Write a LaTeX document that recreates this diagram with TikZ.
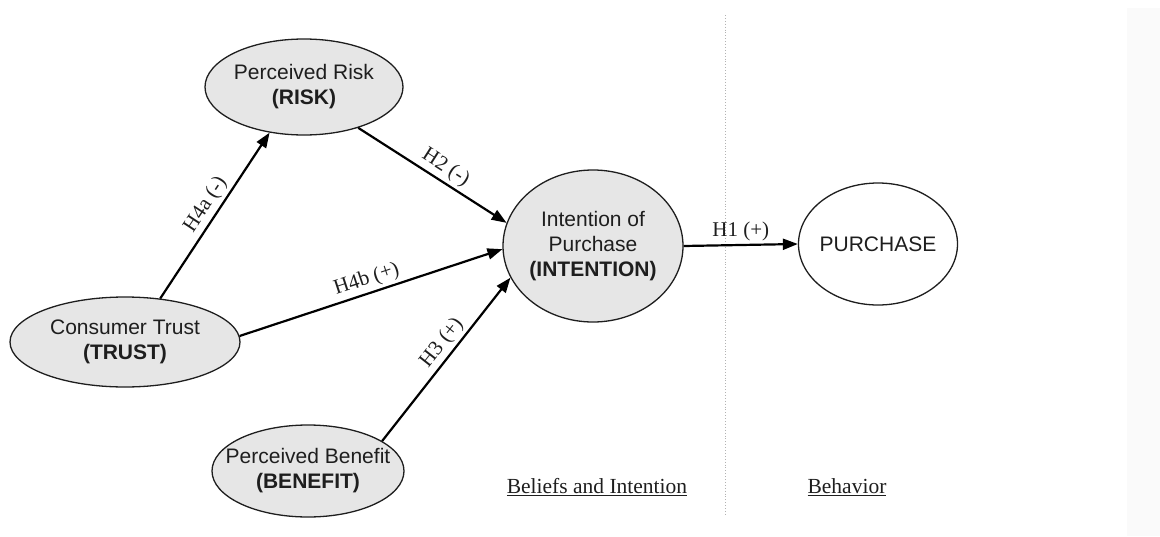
\documentclass[tikz,border=0pt]{standalone}
\usepackage{fontspec}
\setmainfont{Liberation Serif}
\setsansfont{Liberation Sans}
\usetikzlibrary{arrows.meta,shapes.geometric}

\definecolor{ovalfill}{HTML}{E6E6E6}
\definecolor{ink}{HTML}{1E1E1E}
\definecolor{sidebar}{HTML}{FAFAFA}

\tikzset{
  construct/.style={ellipse, draw=ink, line width=1.3pt, fill=ovalfill, inner sep=0pt},
  outcome/.style={construct, fill=white},
  ovaltext/.style={font=\sffamily\fontsize{21}{25}\selectfont, text=ink, align=center, inner sep=0pt},
  path/.style={line width=2.2pt, draw=black, -{Triangle[length=15pt,width=11pt]}},
  hyp/.style={font=\fontsize{21}{24}\selectfont, text=ink, inner sep=3pt},
  section/.style={font=\fontsize{21.5}{25}\selectfont, text=ink, inner sep=0pt}
}

\begin{document}
\begin{tikzpicture}[x=1pt,y=-1pt]
  \useasboundingbox (0,0) rectangle (1160,536);
  \fill[sidebar] (1127,8) rectangle (1160,536);

  % divider between the two stages
  \draw[gray!60, line width=0.9pt, dotted] (725,15) -- (725,515);

  % constructs
  \node[construct, minimum width=198pt, minimum height=96pt] (risk) at (304,87) {};
  \node[ovaltext] (risktxt) at (risk) {Perceived Risk\\\textbf{(RISK)}};

  \node[construct, minimum width=230pt, minimum height=90pt] (trust) at (125,342) {};
  \node[ovaltext] (trusttxt) at (trust) {Consumer Trust\\\textbf{(TRUST)}};

  \node[construct, minimum width=192pt, minimum height=92pt] (benefit) at (308,471) {};
  \node[ovaltext] (benefittxt) at (benefit) {Perceived Benefit\\\textbf{(BENEFIT)}};

  \node[construct, minimum width=180pt, minimum height=152pt] (intention) at (593,246) {};
  \node[ovaltext] (intentiontxt) at (intention) {Intention of\\Purchase\\\textbf{(INTENTION)}};

  \node[outcome, minimum width=159pt, minimum height=122pt] (purchase) at (878,244) {};
  \node[ovaltext] (purchasetxt) at (purchase) {PURCHASE};

  % hypothesised paths
  \draw[path] (trust.51) -- node[hyp, sloped, above, pos=0.52] {H4a (-)} (risk.233);
  \draw[path] (risk.-37) -- node[hyp, sloped, above, pos=0.54] {H2 (-)} (intention.165);
  \draw[path] (trust.3) -- node[hyp, sloped, above, pos=0.5] {H4b (+)} (intention.182);
  \draw[path] (benefit.22) -- node[hyp, sloped, above, pos=0.55] {H3 (+)} (intention.201);
  \draw[path] (intention.east) -- node[hyp, above, pos=0.5] {H1 (+)} (purchase.west);

  % stage headings
  \node[section] (beliefs) at (597,487) {\underline{Beliefs and Intention}};
  \node[section] (behavior) at (847,487) {\underline{Behavior}};
\end{tikzpicture}
\end{document}
